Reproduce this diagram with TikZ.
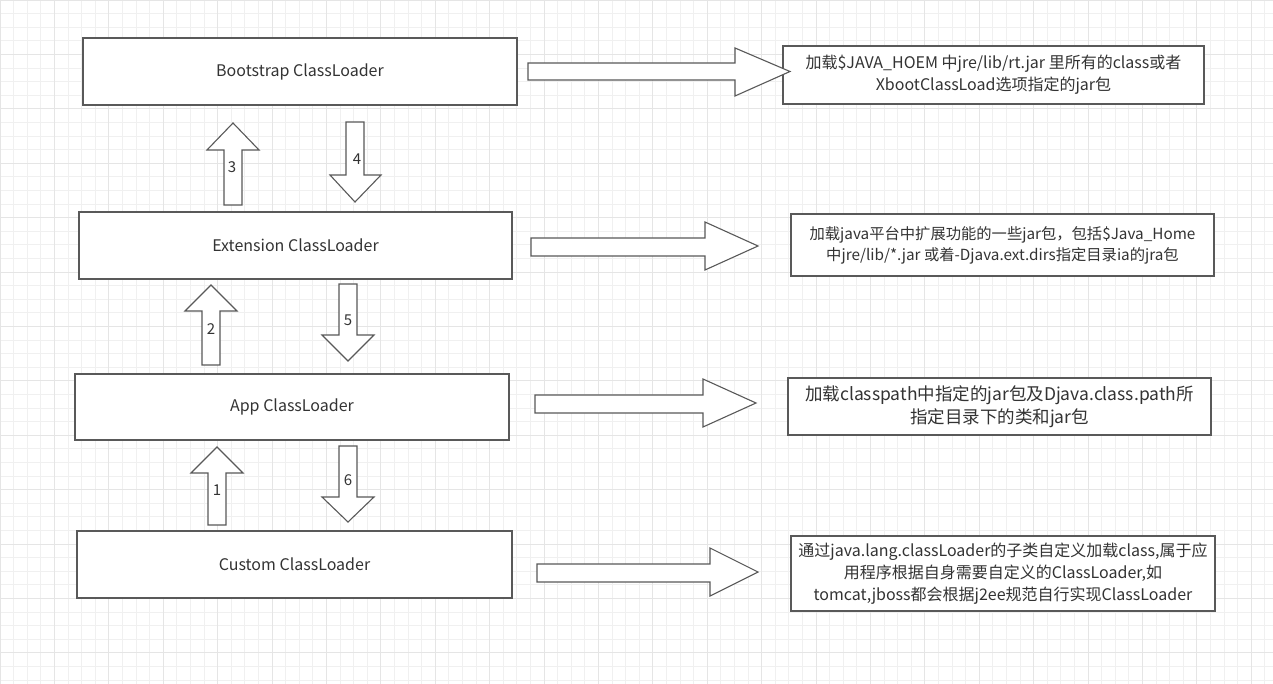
\documentclass[tikz,border=0pt]{standalone}
\usepackage{fontspec}
\setmainfont{Noto Sans CJK SC}
\begin{document}
\begin{tikzpicture}[x=1pt,y=-1pt,
  box/.style={draw=black!65,line width=1.4pt,fill=white,text=black!80},
  arr/.style={draw=black!65,line width=1.1pt,fill=white},
  lbl/.style={text=black!80,font=\fontsize{15}{17}\selectfont}]
\fill[white] (0,0) rectangle (1273,684);
\useasboundingbox (0,0) rectangle (1273,684);
\foreach \i in {0,...,94} {\draw[black!6,line width=0.8pt] (\i*13.6,0) -- (\i*13.6,684);}
\foreach \i in {0,...,50} {\draw[black!6,line width=0.8pt] (0,\i*13.6) -- (1273,\i*13.6);}
\foreach \i in {0,...,23} {\draw[black!10,line width=0.9pt] (\i*54.4,0) -- (\i*54.4,684);}
\foreach \i in {0,...,12} {\draw[black!10,line width=0.9pt] (0,\i*54.4) -- (1273,\i*54.4);}
% left boxes
\node[box,minimum width=434,minimum height=67,inner sep=0,font=\fontsize{16}{18}\selectfont] (b) at (300,71.5) {Bootstrap ClassLoader};
\node[box,minimum width=433,minimum height=67,inner sep=0,font=\fontsize{16}{18}\selectfont] (e) at (295.5,245.5) {Extension ClassLoader};
\node[box,minimum width=434,minimum height=66,inner sep=0,font=\fontsize{16}{18}\selectfont] (a) at (292,407) {App ClassLoader};
\node[box,minimum width=435,minimum height=67,inner sep=0,font=\fontsize{16}{18}\selectfont] (c) at (294.5,564.5) {Custom ClassLoader};
% right boxes
\node[box,minimum width=421,minimum height=58,inner sep=0,align=center,font=\fontsize{16}{22}\selectfont] (rb) at (993.5,75) {加载\$JAVA\_HOEM 中jre/lib/rt.jar 里所有的class或者\\XbootClassLoad选项指定的jar包};
\node[box,minimum width=423,minimum height=62,inner sep=0,align=center,font=\fontsize{15.3}{21}\selectfont] (re) at (1002.5,245) {加载java平台中扩展功能的一些jar包，包括\$Java\_Home\\中jre/lib/*.jar 或着-Djava.ext.dirs指定目录ia的jra包};
\node[box,minimum width=423,minimum height=57,inner sep=0,align=center,font=\fontsize{17.5}{23}\selectfont] (ra) at (999.5,406.5) {加载classpath中指定的jar包及Djava.class.path所\\指定目录下的类和jar包};
\node[box,minimum width=424,minimum height=75,inner sep=0,align=center,font=\fontsize{16}{22}\selectfont] (rc) at (1003,573.5) {通过java.lang.classLoader的子类自定义加载class,属于应\\用程序根据自身需要自定义的ClassLoader,如\\tomcat,jboss都会根据j2ee规范自行实现ClassLoader};
% right arrows
\draw[arr] (528,63)--(735,63)--(735,48)--(790,71.5)--(735,96)--(735,80)--(528,80)--cycle;
\draw[arr] (531,238)--(705,238)--(705,222)--(758,246)--(705,270)--(705,256)--(531,256)--cycle;
\draw[arr] (535,395)--(703,395)--(703,379)--(756,403)--(703,427)--(703,413)--(535,413)--cycle;
\draw[arr] (537,564)--(710,564)--(710,548)--(758,572)--(710,596)--(710,582)--(537,582)--cycle;
% up/down arrows
\draw[arr] (224,205)--(224,150)--(207,150)--(233,123)--(259,150)--(242,150)--(242,205)--cycle;
\draw[arr] (346,122)--(346,175)--(330,175)--(355,202)--(381,175)--(364,175)--(364,122)--cycle;
\draw[arr] (202,365)--(202,311)--(185,311)--(211,285)--(237,311)--(220,311)--(220,365)--cycle;
\draw[arr] (339,284)--(339,335)--(322,335)--(348,361)--(374,335)--(357,335)--(357,284)--cycle;
\draw[arr] (208,525)--(208,473)--(191,473)--(217,447)--(243,473)--(226,473)--(226,525)--cycle;
\draw[arr] (339,446)--(339,497)--(322,497)--(348,522)--(374,497)--(357,497)--(357,446)--cycle;
\node[lbl] (l3) at (232,167) {3};
\node[lbl] (l4) at (357,159) {4};
\node[lbl] (l2) at (211,329) {2};
\node[lbl] (l5) at (348,320) {5};
\node[lbl] (l1) at (217,490) {1};
\node[lbl] (l6) at (348,480) {6};
\end{tikzpicture}
\end{document}
